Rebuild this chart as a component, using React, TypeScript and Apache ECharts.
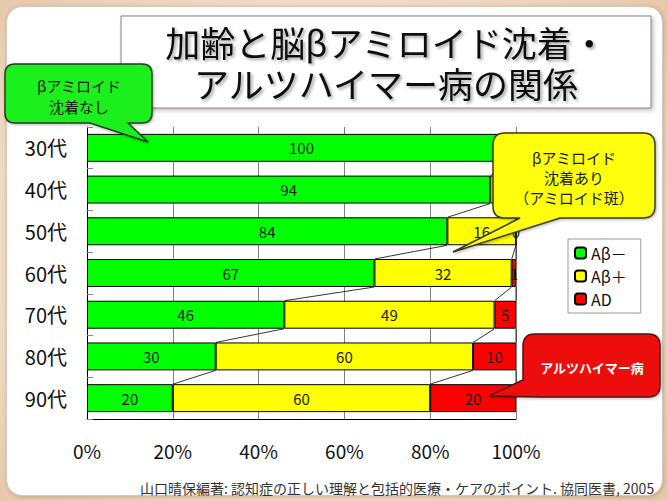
import React, { useEffect, useRef } from "react";
import * as echarts from "echarts";

// ---- data ----
const categories = ["30代", "40代", "50代", "60代", "70代", "80代", "90代"];
const abNegative = [100, 94, 84, 67, 46, 30, 20];
const abPositive = [0, 6, 16, 32, 49, 60, 60];
const adValues = [0, 0, 0, 1, 5, 10, 20];
const seriesNames = ["Aβ－", "Aβ＋", "AD"];
const titleLines = ["加齢と脳βアミロイド沈着・", "アルツハイマー病の関係"];
const calloutNone = ["βアミロイド", "沈着なし"];
const calloutPlaque = ["βアミロイド", "沈着あり", "（アミロイド斑）"];
const calloutAD = "アルツハイマー病";
const sourceText = "山口晴保編著: 認知症の正しい理解と包括的医療・ケアのポイント. 協同医書, 2005";
// rows whose right end is hidden under the yellow callout (zero labels not shown there)
const hiddenZeroRows = ["30代", "40代"];

const FONT = "'Noto Sans CJK JP', 'Noto Sans', sans-serif";

// callout outlines (annotation shapes)
const pathGreen =
  "M 15 64 H 142 Q 152 64 152 74 V 113 Q 152 123 142 123 H 128 L 148 142 L 90 123 H 15 Q 5 123 5 113 V 74 Q 5 64 15 64 Z";
const pathYellow =
  "M 505 133 H 643 Q 655 133 655 145 V 206 Q 655 218 643 218 H 560 L 453 252 L 520 218 H 505 Q 493 218 493 206 V 145 Q 493 133 505 133 Z";
const pathRed =
  "M 535 334 H 648 Q 660 334 660 346 V 385 Q 660 397 648 397 H 540 L 489 396 L 523 380 V 346 Q 523 334 535 334 Z";

echarts.graphic.registerShape("calloutGreen", echarts.graphic.extendPath(pathGreen, {}));
echarts.graphic.registerShape("calloutYellow", echarts.graphic.extendPath(pathYellow, {}));
echarts.graphic.registerShape("calloutRed", echarts.graphic.extendPath(pathRed, {}));

const BAR_RATIO = 0.67;

export default function App() {
  const ref = useRef<HTMLDivElement>(null);

  useEffect(() => {
    if (!ref.current) return;
    const chart = echarts.init(ref.current, undefined, { renderer: "svg" });

    const stacks = [abNegative, abPositive, adValues];
    const colors = ["#00ff00", "#ffff00", "#ff0000"];

    // series lines connecting cumulative segment ends between adjacent bars
    const lineData: number[][] = [];
    for (let k = 0; k < stacks.length; k++) {
      const cum = categories.map((_, i) => {
        let s = 0;
        for (let j = 0; j <= k; j++) s += stacks[j][i];
        return s;
      });
      for (let i = 0; i < categories.length - 1; i++) {
        lineData.push([cum[i], cum[i + 1], i]);
      }
    }

    const barSeries = stacks.map((vals, k) => ({
      name: seriesNames[k],
      type: "bar",
      stack: "total",
      barWidth: BAR_RATIO * 100 + "%",
      data: vals.map((v, i) => ({
        value: v,
        label: { show: !(v === 0 && hiddenZeroRows.includes(categories[i])) },
      })),
      itemStyle: { color: colors[k], borderColor: "#000", borderWidth: 1 },
      label: {
        show: true,
        position: "inside",
        color: "#1a1a1a",
        fontSize: 15,
        fontFamily: FONT,
      },
      z: 2,
    }));

    const txt = (text: string, x: number, y: number, size: number, fill: string, weight = "normal") => ({
      type: "text",
      x,
      y,
      z: 101,
      style: {
        text,
        fill,
        font: `${weight} ${size}px ${FONT}`,
        align: "center",
        verticalAlign: "middle",
      },
    });

    const titleStyle = {
      fontFamily: FONT,
      fontSize: 35,
      lineHeight: 38,
      fontWeight: "normal",
      color: "#111",
      textShadowColor: "rgba(0,0,0,0.35)",
      textShadowBlur: 3,
      textShadowOffsetX: 2,
      textShadowOffsetY: 2,
    };

    const option: any = {
      animation: false,
      backgroundColor: "transparent",
      title: [
        { text: titleLines[0], left: 386, top: 22, textAlign: "center", padding: 0, textStyle: titleStyle },
        { text: titleLines[1], left: 386, top: 63, textAlign: "center", padding: 0, textStyle: titleStyle },
      ],
      legend: {
        data: seriesNames,
        orient: "vertical",
        left: 568,
        top: 239,
        padding: [6, 14, 6, 6],
        itemGap: 7,
        itemWidth: 11,
        itemHeight: 11,
        borderColor: "#999",
        borderWidth: 1,
        backgroundColor: "#fff",
        textStyle: { fontFamily: FONT, fontSize: 16, color: "#111" },
      },
      grid: { left: 87, right: 152, top: 127, bottom: 82, containLabel: false },
      xAxis: {
        type: "value",
        min: 0,
        max: 100,
        interval: 20,
        axisLine: { show: true, lineStyle: { color: "#000", width: 1 } },
        axisTick: { show: false },
        splitLine: { show: true, lineStyle: { color: "#808080", width: 1 } },
        axisLabel: {
          formatter: "{value}%",
          fontFamily: FONT,
          fontSize: 19,
          color: "#111",
          margin: 22,
        },
      },
      yAxis: {
        type: "category",
        inverse: true,
        data: categories,
        axisLine: { show: true, lineStyle: { color: "#000", width: 1 } },
        axisTick: { show: true, inside: true, length: 6, lineStyle: { color: "#888" } },
        axisLabel: { fontFamily: FONT, fontSize: 20, color: "#111", margin: 20 },
      },
      series: [
        ...barSeries,
        {
          type: "custom",
          name: "series-lines",
          silent: true,
          z: 3,
          encode: { x: [0, 1], y: 2 },
          data: lineData,
          renderItem: (params: any, api: any) => {
            const c0 = api.value(0);
            const c1 = api.value(1);
            const i = api.value(2);
            const p0 = api.coord([c0, i]);
            const p1 = api.coord([c1, i + 1]);
            const half = (api.size([0, 1])[1] * BAR_RATIO) / 2;
            return {
              type: "line",
              shape: { x1: p0[0], y1: p0[1] + half, x2: p1[0], y2: p1[1] - half },
              style: { stroke: "#000", lineWidth: 0.8 },
            };
          },
        },
      ],
      graphic: [
        {
          type: "rect",
          z: 1,
          shape: { x: 121, y: 16, width: 530, height: 92 },
          style: {
            fill: "#fff",
            stroke: "#8c7b7b",
            lineWidth: 1,
            shadowBlur: 4,
            shadowOffsetX: 2,
            shadowOffsetY: 2,
            shadowColor: "rgba(0,0,0,0.25)",
          },
        },
        {
          type: "calloutGreen",
          z: 100,
          style: {
            fill: "#1ff01f",
            stroke: "#1f3f1f",
            lineWidth: 1.5,
            shadowBlur: 3,
            shadowOffsetX: 1,
            shadowOffsetY: 1,
            shadowColor: "rgba(0,0,0,0.3)",
          },
        },
        txt(calloutNone[0], 79, 85, 15, "#1a1a1a"),
        txt(calloutNone[1], 79, 106, 15, "#1a1a1a"),
        {
          type: "calloutYellow",
          z: 100,
          style: {
            fill: "#ffff10",
            stroke: "#3a3a1a",
            lineWidth: 1.5,
            shadowBlur: 3,
            shadowOffsetX: 1,
            shadowOffsetY: 1,
            shadowColor: "rgba(0,0,0,0.3)",
          },
        },
        txt(calloutPlaque[0], 574, 157, 15, "#1a1a1a"),
        txt(calloutPlaque[1], 574, 177, 15, "#1a1a1a"),
        txt(calloutPlaque[2], 574, 197, 15, "#1a1a1a"),
        {
          type: "calloutRed",
          z: 100,
          style: {
            fill: "#ee0a0a",
            stroke: "#5a1010",
            lineWidth: 1.5,
            shadowBlur: 3,
            shadowOffsetX: 1,
            shadowOffsetY: 1,
            shadowColor: "rgba(0,0,0,0.3)",
          },
        },
        txt(calloutAD, 592, 367, 13, "#ffffff", "bold"),
        {
          type: "text",
          x: 140,
          y: 488,
          z: 101,
          style: {
            text: sourceText,
            fill: "#333",
            font: `normal 14px ${FONT}`,
            align: "left",
            verticalAlign: "middle",
          },
        },
      ],
    };

    chart.setOption(option);
    return () => chart.dispose();
  }, []);

  return (
    <div
      style={{
        position: "absolute",
        left: 0,
        top: 0,
        width: 668,
        height: 501,
        overflow: "hidden",
        background: "radial-gradient(ellipse at center, #fbefe2 0%, #f1dcc6 70%, #e6c8aa 100%)",
      }}
    >
      <div
        style={{
          position: "absolute",
          left: 6,
          top: 6,
          width: 657,
          height: 490,
          borderRadius: 16,
          background: "#fff",
          border: "1px solid #d8c8b8",
          boxShadow: "1px 1px 4px rgba(120,90,60,0.35)",
          boxSizing: "border-box",
        }}
      />
      <div ref={ref} style={{ position: "absolute", left: 0, top: 0, width: 668, height: 501 }} />
    </div>
  );
}
